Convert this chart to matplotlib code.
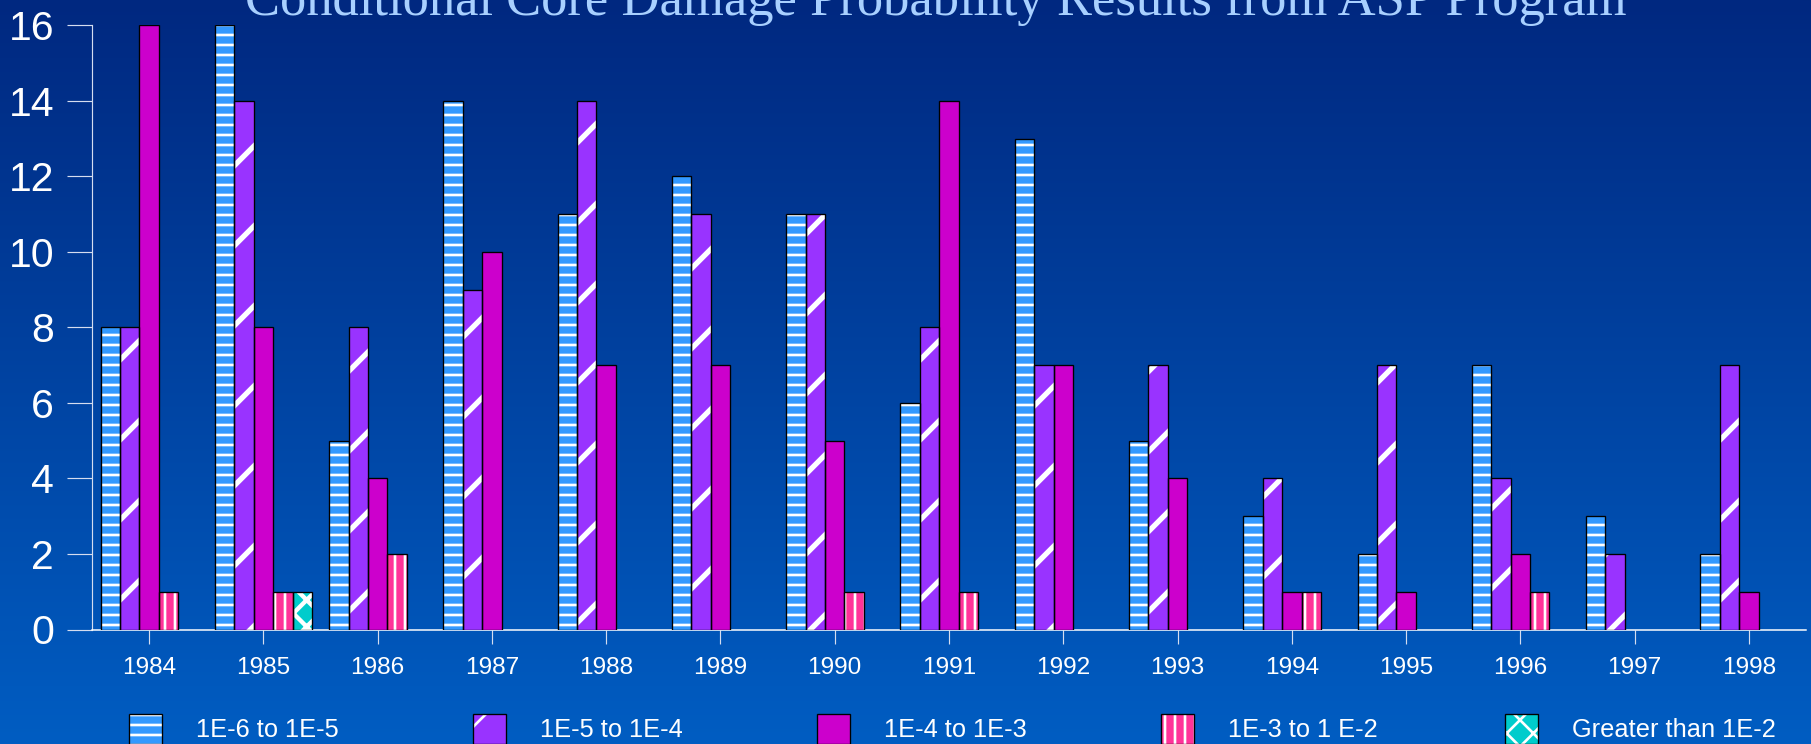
import numpy as np
import matplotlib
matplotlib.use('Agg')
import matplotlib.pyplot as plt
from matplotlib.patches import Patch
from matplotlib.legend_handler import HandlerTuple

years = ['1984', '1985', '1986', '1987', '1988', '1989', '1990', '1991',
         '1992', '1993', '1994', '1995', '1996', '1997', '1998']
labels = ['1E-6 to 1E-5', '1E-5 to 1E-4', '1E-4 to 1E-3', '1E-3 to 1 E-2', 'Greater than 1E-2']
e6_e5 = [8, 16, 5, 14, 11, 12, 11, 6, 13, 5, 3, 2, 7, 3, 2]
e5_e4 = [8, 14, 8, 9, 14, 11, 11, 8, 7, 7, 4, 7, 4, 2, 7]
e4_e3 = [16, 8, 4, 10, 7, 7, 5, 14, 7, 4, 1, 1, 2, 0, 1]
e3_e2 = [1, 1, 2, 0, 0, 0, 1, 1, 0, 0, 1, 0, 1, 0, 0]
gt_e2 = [0, 1, 0, 0, 0, 0, 0, 0, 0, 0, 0, 0, 0, 0, 0]
series = [e6_e5, e5_e4, e4_e3, e3_e2, gt_e2]

colors = ['#3399ff', '#9933ff', '#cc00cc', '#ff3399', '#00cccc']
hatches = ['----', '/', None, '||||', 'xxx']
hatch_lw = [0.8, 1.6, 0.8, 0.8, 1.3]

DPI = 240
plt.rcParams['font.family'] = ['Liberation Sans', 'DejaVu Sans']
plt.rcParams['hatch.linewidth'] = 0.8

fig = plt.figure(figsize=(1811 / DPI, 744 / DPI), dpi=DPI)

# background gradient
bg = fig.add_axes([0, 0, 1, 1], zorder=-5)
grad = np.linspace(0, 1, 256).reshape(-1, 1)
top = np.array([0x00, 0x28, 0x80]) / 255
bot = np.array([0x00, 0x5d, 0xc2]) / 255
img = top + grad[..., None] * (bot - top)
bg.imshow(img, aspect='auto', extent=[0, 1, 0, 1])
bg.axis('off')

ax = fig.add_axes([92 / 1811, 114.5 / 744, (1806 - 92) / 1811, (629.5 - 25.4) / 744])
ax.patch.set_alpha(0)


def set_hlw(patches, lw):
    for p in patches:
        if hasattr(p, 'set_hatch_linewidth'):
            p.set_hatch_linewidth(lw)


x = np.arange(len(years))
w = 0.17
for i, vals in enumerate(series):
    v = np.array(vals, dtype=float)
    m = v > 0
    xs = x[m] + (i - 2) * w
    with plt.rc_context({'hatch.linewidth': hatch_lw[i]}):
        bars = ax.bar(xs, v[m], w, color=colors[i], edgecolor='white', hatch=hatches[i],
                      linewidth=0, zorder=3)
    set_hlw(bars, hatch_lw[i])
    ax.bar(xs, v[m], w, color='none', edgecolor='black', linewidth=0.4, zorder=4)

ax.set_xlim(-0.5, 14.5)
ax.set_ylim(0, 16)
ax.set_yticks(range(0, 17, 2))
ax.set_xticks(x)
ax.set_xticklabels(years)
for s in ['top', 'right']:
    ax.spines[s].set_visible(False)
ax.spines['left'].set_color('#d5ddf0')
ax.spines['left'].set_linewidth(0.35)
ax.spines['bottom'].set_color('white')
ax.spines['bottom'].set_linewidth(0.45)
ax.tick_params(axis='y', colors='#d5ddf0', labelcolor='white', labelsize=12.3,
               length=7.5, width=0.35, pad=3.9)
ax.tick_params(axis='x', colors='#d5ddf0', labelcolor='white', labelsize=7.3,
               length=4.2, width=0.35, pad=4.2)

fig.text(0.517, 1 - 15 / 744, 'Conditional Core Damage Probability Results from ASP Program',
         ha='center', va='baseline', color='#a8d0ff', fontsize=15.8,
         family=['Liberation Serif', 'DejaVu Serif'])

# legend, one entry per series at even spacing
for i in range(5):
    with plt.rc_context({'hatch.linewidth': hatch_lw[i]}):
        hp = Patch(facecolor=colors[i], edgecolor='white', hatch=hatches[i], linewidth=0)
    set_hlw([hp], hatch_lw[i])
    h = (hp, Patch(facecolor='none', edgecolor='black', linewidth=0.4))
    fig.legend([h], [labels[i]], handler_map={tuple: HandlerTuple(ndivide=1, pad=0)},
               loc='center left', bbox_to_anchor=((129 + 344 * i) / 1811, 15 / 744),
               frameon=False, fontsize=7.6, labelcolor='white',
               borderpad=0, borderaxespad=0, handlelength=1.32, handleheight=1.44,
               handletextpad=1.32)

fig.savefig('out.png', dpi=DPI)
